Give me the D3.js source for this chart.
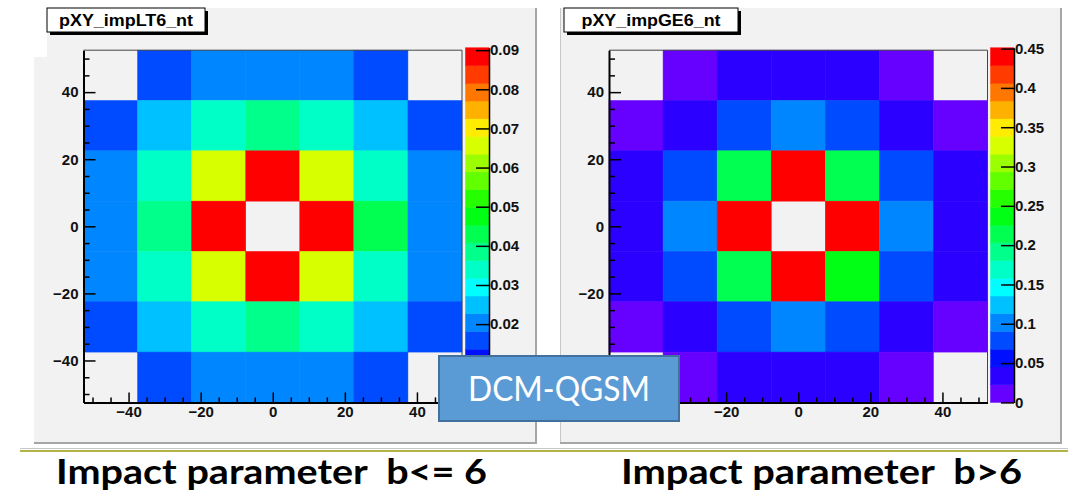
<!DOCTYPE html>
<html>
<head>
<meta charset="utf-8">
<script src="https://cdn.jsdelivr.net/npm/d3@7"></script>
<style>
body { margin: 0; background: #fff; }
.tick text { font-family: "Liberation Sans", Arial, sans-serif; font-weight: bold; font-size: 15px; fill: #111; }
</style>
</head>
<body>
<svg class="canvas"></svg>
<script>
// bin centres of the 7x7 grid (x left->right, y top->bottom)
var xBins = [-45, -30, -15, 0, 15, 30, 45];
var yBins = [45, 30, 15, 0, -15, -30, -45];
var axisTicks = [-40, -20, 0, 20, 40];
var minorTicks = [-50, -45, -35, -30, -25, -15, -10, -5, 5, 10, 15, 25, 30, 35, 45, 50];

// impact parameter b <= 6 (rows top to bottom)
var ltValues = [
	[0,     0.016, 0.020, 0.020, 0.020, 0.016, 0    ],
	[0.016, 0.025, 0.034, 0.038, 0.034, 0.025, 0.016],
	[0.020, 0.034, 0.066, 0.089, 0.066, 0.034, 0.020],
	[0.020, 0.038, 0.089, 0,     0.089, 0.043, 0.020],
	[0.020, 0.034, 0.066, 0.089, 0.066, 0.034, 0.020],
	[0.016, 0.025, 0.034, 0.038, 0.034, 0.025, 0.016],
	[0,     0.016, 0.020, 0.020, 0.020, 0.016, 0    ]
];
// 0 and 0.01 sit under the DCM-QGSM box
var ltZTicks = [0.02, 0.03, 0.04, 0.05, 0.06, 0.07, 0.08, 0.09];
var ltZMax = 0.0906;

// impact parameter b > 6
var geValues = [
	[0,     0.012, 0.034, 0.034, 0.034, 0.012, 0    ],
	[0.012, 0.034, 0.080, 0.100, 0.080, 0.034, 0.012],
	[0.034, 0.080, 0.215, 0.445, 0.215, 0.080, 0.034],
	[0.034, 0.100, 0.445, 0,     0.445, 0.100, 0.034],
	[0.034, 0.080, 0.215, 0.445, 0.235, 0.080, 0.034],
	[0.012, 0.034, 0.080, 0.100, 0.080, 0.034, 0.012],
	[0,     0.012, 0.034, 0.034, 0.034, 0.012, 0    ]
];
var geZTicks = [0, 0.05, 0.1, 0.15, 0.2, 0.25, 0.3, 0.35, 0.4, 0.45];
var geZMax = 0.451;
var geXTicks = [-20, 0, 20, 40]; // -40 hidden by the box

// ROOT style rainbow palette, 20 contour levels
var palette = ["#6600ff","#2b00ff","#0010ff","#004bff","#0086ff","#00c1ff","#00fdff","#00ffc6","#00ff8b","#00ff50",
	"#00ff15","#26ff00","#61ff00","#9cff00","#d7ff00","#ffec00","#ffb100","#ff7600","#ff3b00","#ff0000"];

var BIN_W = 15;
var PANEL_BG = "#f2f2f2";
var width = 1068, height = 495;

var canvas = d3.select(".canvas").attr("width", width).attr("height", height);

// background panels (screen grab of two ROOT canvases)
canvas.append("rect").attr("x", 47).attr("y", 8).attr("width", 490).attr("height", 436).attr("fill", PANEL_BG);
canvas.append("rect").attr("x", 34).attr("y", 57).attr("width", 20).attr("height", 387).attr("fill", PANEL_BG);
canvas.append("rect").attr("x", 560).attr("y", 8).attr("width", 502).attr("height", 436).attr("fill", PANEL_BG);
canvas.append("line").attr("x1", 536).attr("x2", 536).attr("y1", 8).attr("y2", 444).attr("stroke", "#a6a6a6").attr("stroke-width", 2);
canvas.append("line").attr("x1", 34).attr("x2", 537).attr("y1", 443).attr("y2", 443).attr("stroke", "#a6a6a6").attr("stroke-width", 2);
canvas.append("line").attr("x1", 560.5).attr("x2", 560.5).attr("y1", 8).attr("y2", 444).attr("stroke", "#c8c8c8").attr("stroke-width", 1);
canvas.append("line").attr("x1", 1061).attr("x2", 1061).attr("y1", 8).attr("y2", 444).attr("stroke", "#a6a6a6").attr("stroke-width", 2);
canvas.append("line").attr("x1", 560).attr("x2", 1062).attr("y1", 443).attr("y2", 443).attr("stroke", "#a6a6a6").attr("stroke-width", 2);
canvas.append("line").attr("x1", 20).attr("x2", 1068).attr("y1", 448.5).attr("y2", 448.5).attr("stroke", "#c8c8c8").attr("stroke-width", 1);
canvas.append("line").attr("x1", 20).attr("x2", 1068).attr("y1", 451).attr("y2", 451).attr("stroke", "#b4b446").attr("stroke-width", 2);

function drawPanel(values, xTicks, zTicks, zMax, frameLeft, barLeft, title, boxX, boxW, titleW) {
	var x = d3.scaleLinear().domain([-52.5, 52.5]).range([frameLeft, frameLeft + 378.5]);
	var y = d3.scaleLinear().domain([-52.5, 52.5]).range([402.4, 50.2]);
	var z = d3.scaleLinear().domain([0, zMax]).range([402.4, 47.8]);
	var color = d3.scaleQuantize().domain([0, zMax]).range(palette);

	var g = canvas.append("g");

	// cells, empty bins are not painted
	var cells = [];
	values.forEach(function(row, i) {
		row.forEach(function(v, j) {
			if (v > 0) cells.push({ cx: xBins[j], cy: yBins[i], v: v });
		});
	});
	g.selectAll("rect.cell").data(cells)
		.enter().append("rect")
		.attr("class", "cell")
		.attr("x", function(d) { return x(d.cx - BIN_W / 2); })
		.attr("y", function(d) { return y(d.cy + BIN_W / 2); })
		.attr("width", function(d) { return x(d.cx + BIN_W / 2) - x(d.cx - BIN_W / 2); })
		.attr("height", function(d) { return y(d.cy - BIN_W / 2) - y(d.cy + BIN_W / 2); })
		.attr("fill", function(d) { return color(d.v); })
		.attr("stroke", function(d) { return color(d.v); })
		.attr("stroke-width", 0.5);

	// frame top/right
	g.append("path")
		.attr("d", "M" + x(-52.5) + "," + y(52.5) + "H" + x(52.5) + "V" + y(-52.5))
		.attr("fill", "none").attr("stroke", "#444").attr("stroke-width", 1);

	// minor ticks
	g.append("g").attr("transform", "translate(0," + y(-52.5) + ")")
		.call(d3.axisBottom(x).tickValues(minorTicks).tickSize(-5).tickFormat(""))
		.call(function(s) { s.select(".domain").remove(); });
	g.append("g").attr("transform", "translate(" + x(-52.5) + ",0)")
		.call(d3.axisLeft(y).tickValues(minorTicks).tickSize(-6).tickFormat(""))
		.call(function(s) { s.select(".domain").remove(); });

	// major ticks + labels
	var xa = g.append("g").attr("transform", "translate(0," + y(-52.5) + ")")
		.call(d3.axisBottom(x).tickValues(xTicks).tickSize(-10).tickSizeOuter(0).tickPadding(4));
	var ya = g.append("g").attr("transform", "translate(" + x(-52.5) + ",0)")
		.call(d3.axisLeft(y).tickValues(axisTicks).tickSize(-12).tickSizeOuter(0).tickPadding(5));
	[xa, ya].forEach(function(a) {
		a.select(".domain").attr("stroke", "#000").attr("stroke-width", 2);
	});
	g.selectAll(".tick line").attr("stroke", "#000").attr("stroke-width", 1.5);

	// colour bar
	var bands = d3.range(palette.length);
	g.selectAll("rect.band").data(bands)
		.enter().append("rect")
		.attr("class", "band")
		.attr("x", barLeft)
		.attr("width", 23.5)
		.attr("y", function(k) { return z(zMax * (k + 1) / palette.length); })
		.attr("height", function(k) { return z(zMax * k / palette.length) - z(zMax * (k + 1) / palette.length); })
		.attr("fill", function(k) { return palette[k]; })
		.attr("stroke", function(k) { return palette[k]; })
		.attr("stroke-width", 0.5);
	var za = g.append("g").attr("transform", "translate(" + (barLeft + 23.5) + ",0)")
		.call(d3.axisRight(z).tickValues(zTicks).tickSize(-13).tickSizeOuter(0).tickPadding(1)
			.tickFormat(function(d) { return String(+d.toFixed(2)); }));
	za.select(".domain").attr("stroke", "#000").attr("stroke-width", 1.5);
	za.selectAll(".tick line").attr("stroke", "#000").attr("stroke-width", 1.5);

	// title box
	g.append("rect").attr("x", boxX + 3).attr("y", 11).attr("width", boxW).attr("height", 24).attr("fill", "#000");
	g.append("rect").attr("x", boxX).attr("y", 8).attr("width", boxW).attr("height", 24)
		.attr("fill", "#fff").attr("stroke", "#000").attr("stroke-width", 1);
	g.append("text")
		.attr("x", boxX + boxW / 2).attr("y", 26)
		.attr("text-anchor", "middle")
		.attr("textLength", titleW).attr("lengthAdjust", "spacingAndGlyphs")
		.style("font-family", "'Liberation Sans', Arial, sans-serif")
		.style("font-weight", "bold").style("font-size", "16px")
		.text(title);
}

drawPanel(ltValues, axisTicks, ltZTicks, ltZMax, 83.5, 465.5, "pXY_impLT6_nt", 47, 158, 134);
drawPanel(geValues, geXTicks, geZTicks, geZMax, 609, 990.5, "pXY_impGE6_nt", 564, 174, 139);

// DCM-QGSM label
canvas.append("rect")
	.attr("x", 439).attr("y", 356).attr("width", 240).attr("height", 65)
	.attr("fill", "#5b9bd5").attr("stroke", "#41719c").attr("stroke-width", 2);
canvas.append("text")
	.attr("x", 559).attr("y", 401)
	.attr("text-anchor", "middle")
	.attr("textLength", 182).attr("lengthAdjust", "spacingAndGlyphs")
	.style("font-family", "Lato, 'Open Sans', sans-serif")
	.style("font-size", "35px").style("fill", "#fff")
	.text("DCM-QGSM");

// captions
var captions = [
	{ x: 56, w: 431, t: "Impact parameter  b<= 6" },
	{ x: 621, w: 401, t: "Impact parameter  b>6" }
];
canvas.selectAll("text.caption").data(captions)
	.enter().append("text")
	.attr("class", "caption")
	.attr("x", function(d) { return d.x; })
	.attr("y", 484)
	.attr("textLength", function(d) { return d.w; })
	.attr("lengthAdjust", "spacingAndGlyphs")
	.style("font-family", "Lato, 'Open Sans', sans-serif")
	.style("font-weight", "bold").style("font-size", "34px").style("fill", "#000")
	.style("white-space", "pre")
	.text(function(d) { return d.t; });
</script>
</body>
</html>
